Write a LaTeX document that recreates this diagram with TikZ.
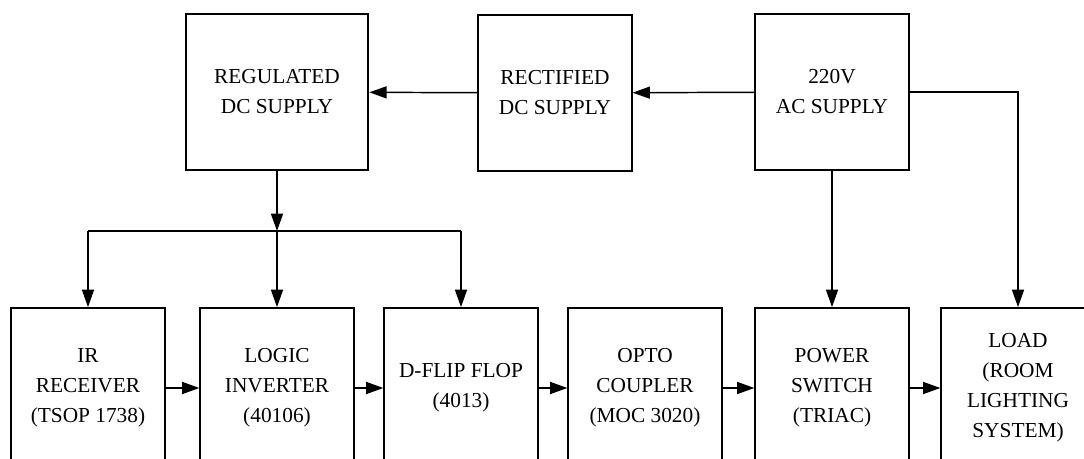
\documentclass[tikz,border=0pt]{standalone}
\usepackage{fontspec}
\setmainfont{Liberation Serif}
\usepackage{tikz}
\usetikzlibrary{
    arrows.meta,
    positioning
}

\begin{document}
\begin{tikzpicture}[
x=0.75pt, y=-0.75pt,
block/.style={
draw,
line width=1.4pt,
minimum width=115pt,
align=center,
font=\fontsize{16}{22.5}\selectfont
},
topblock/.style={
block,
minimum height=117pt
},
lowblock/.style={
block,
minimum height=120pt
},
arr/.style={
-{Triangle[length=13pt,width=9pt]},
line width=1.1pt
}
]

\useasboundingbox (0,0) rectangle (1084,459);
\clip (0,0) rectangle (1084,459);

% supply chain
\node[topblock, minimum width=137pt] (reg) at (277,92)
{REGULATED\\DC SUPPLY};

\node[topblock] (rect) at (555,93)
{RECTIFIED\\DC SUPPLY};

\node[topblock] (ac) at (832,92)
{220V\\AC SUPPLY};

% control chain
\node[lowblock] (ir) at (88,388)
{IR\\RECEIVER\\(TSOP 1738)};

\node[lowblock] (inv) at (277,388)
{LOGIC\\INVERTER\\(40106)};

\node[lowblock] (dff) at (461,388)
{D-FLIP FLOP\\(4013)};

\node[lowblock] (opto) at (645,388)
{OPTO\\COUPLER\\(MOC 3020)};

\node[lowblock] (triac) at (832,388)
{POWER\\SWITCH\\(TRIAC)};

\node[lowblock] (load) at (1018,388)
{LOAD\\(ROOM\\LIGHTING\\SYSTEM)};

\coordinate (split) at (277,231);

\draw[arr] (ac) -- (rect);
\draw[arr] (rect) -- (reg);

\draw[arr] (reg) -- (split);
\draw[line width=1.1pt] (ir |- split) -- (dff |- split);
\draw[arr] (ir |- split) -- (ir);
\draw[arr] (split) -- (inv);
\draw[arr] (dff |- split) -- (dff);

\draw[arr] (ac) -- (triac);
\draw[arr] (ac.east) -| (load.north);

\draw[arr] (ir) -- (inv);
\draw[arr] (inv) -- (dff);
\draw[arr] (dff) -- (opto);
\draw[arr] (opto) -- (triac);
\draw[arr] (triac) -- (load);

\end{tikzpicture}
\end{document}
